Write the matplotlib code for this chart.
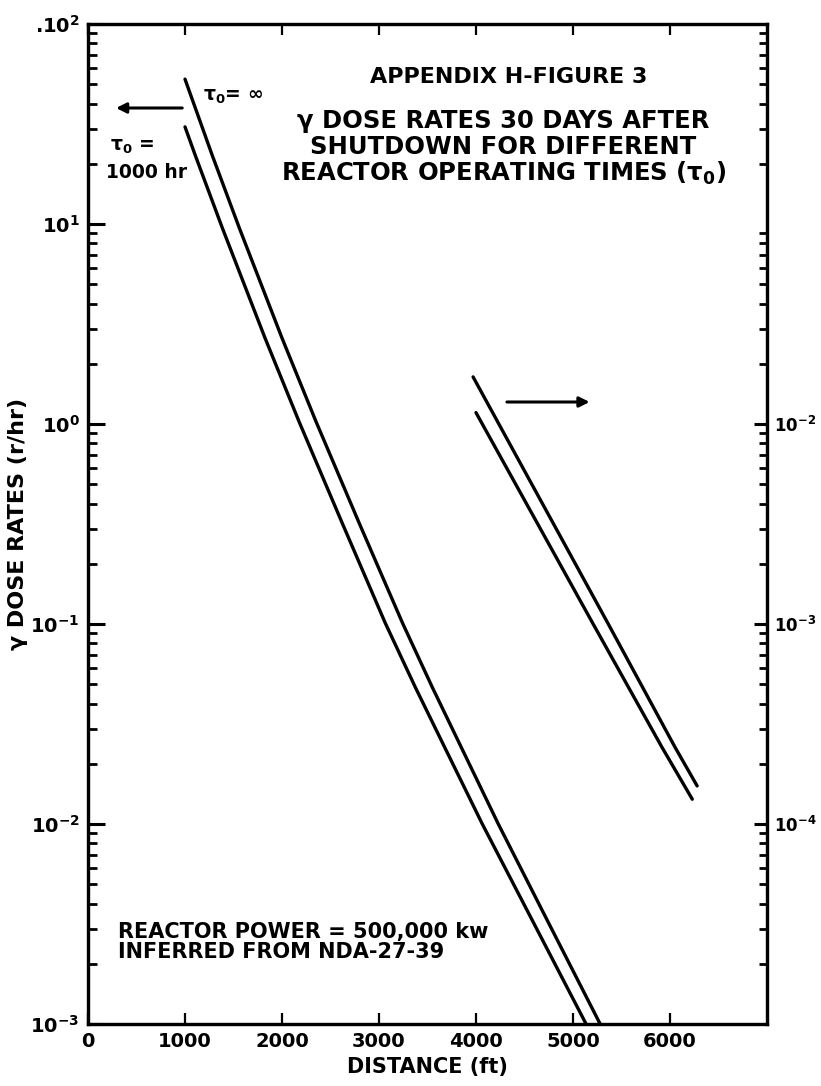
import matplotlib
matplotlib.use("Agg")
import matplotlib.pyplot as plt
from matplotlib.ticker import LogLocator, NullFormatter, FixedLocator
import numpy as np

plt.rcParams['font.family'] = ['DejaVu Sans']
plt.rcParams['font.weight'] = 'bold'
plt.rcParams['mathtext.fontset'] = 'dejavusans'
plt.rcParams['mathtext.default'] = 'bf'

# values (distance in ft, dose rate in r/hr)
dist_inf_left = [1000, 1280, 1560, 2000, 2350, 2800, 3243, 3550, 3846, 4230, 4700, 5280]
rate_inf_left = [53, 22.1, 9.55, 2.69, 1.03, 0.316, 0.101, 0.0482, 0.0243, 0.01, 0.00356, 0.001]
dist_1000_left = [1000, 1105, 1385, 1825, 2175, 2625, 3065, 3375, 3675, 4065, 4545, 5135]
rate_1000_left = [30.6, 22.1, 9.55, 2.69, 1.03, 0.316, 0.101, 0.0482, 0.0243, 0.01, 0.00356, 0.001]

# right-hand curves, read against the right axis
dist_inf_right = [3970, 5364, 6050, 6280]
rate_inf_right = [0.0172, 1e-3, 2.43e-4, 1.55e-4]
dist_1000_right = [4000, 5208, 5915, 6230]
rate_1000_right = [0.0114, 1e-3, 2.43e-4, 1.33e-4]

xticks = [0, 1000, 2000, 3000, 4000, 5000, 6000]
left_ticks = [1e-3, 1e-2, 1e-1, 1e0, 1e1, 1e2]
left_labels = ['10$^{-3}$', '10$^{-2}$', '10$^{-1}$', '10$^{0}$', '10$^{1}$', '.10$^{2}$']
right_ticks = [1e-4, 1e-3, 1e-2]
right_labels = ['10$^{-4}$', '10$^{-3}$', '10$^{-2}$']

fig = plt.figure(figsize=(8.21, 10.86), dpi=100)
ax = fig.add_axes([0.1072, 0.0571, 0.827, 0.9208])
ax2 = ax.twinx()

lw = 2.4
for d, r in ((dist_inf_left, rate_inf_left), (dist_1000_left, rate_1000_left)):
    ax.plot(d, r, color='black', lw=lw, solid_capstyle='round', solid_joinstyle='round')
for d, r in ((dist_inf_right, rate_inf_right), (dist_1000_right, rate_1000_right)):
    ax2.plot(d, r, color='black', lw=lw, solid_capstyle='round', solid_joinstyle='round')

ax.set_xlim(0, 7000)
ax.set_yscale('log')
ax.set_ylim(1e-3, 1e2)
ax2.set_yscale('log')
ax2.set_ylim(1e-5, 1e0)

for a in (ax, ax2):
    for s in a.spines.values():
        s.set_linewidth(2.3)

ax.set_xticks(xticks)
ax.set_xticklabels([str(x) for x in xticks], fontsize=14, fontweight='bold')
ax.tick_params(axis='x', direction='in', length=8, width=1.6, top=True, pad=6)

ax.yaxis.set_major_locator(FixedLocator(left_ticks))
ax.set_yticklabels(left_labels, fontsize=14, fontweight='bold')
ax.yaxis.set_minor_locator(LogLocator(base=10, subs=np.arange(2, 10)))
ax.yaxis.set_minor_formatter(NullFormatter())
ax.tick_params(axis='y', which='major', direction='in', length=12, width=2.2, pad=6)
ax.tick_params(axis='y', which='minor', direction='in', length=6.5, width=2)

ax2.yaxis.set_major_locator(FixedLocator(right_ticks))
ax2.set_yticklabels(right_labels, fontsize=12, fontweight='bold')
ax2.yaxis.set_minor_locator(LogLocator(base=10, subs=np.arange(2, 10)))
ax2.yaxis.set_minor_formatter(NullFormatter())
ax2.tick_params(axis='y', which='major', direction='in', length=9.5, width=2.2, pad=5)
ax2.tick_params(axis='y', which='minor', direction='in', length=6, width=2)

ax.set_xlabel('DISTANCE (ft)', fontsize=15, fontweight='bold', labelpad=4)
ax.set_ylabel('γ DOSE RATES (r/hr)', fontsize=16, fontweight='bold', labelpad=2)

# title block inside the frame
ax.text(4340, 10**1.735, 'APPENDIX H-FIGURE 3', ha='center', va='center', fontsize=16, fontweight='bold')
ax.text(4280, 10**1.515, 'γ DOSE RATES 30 DAYS AFTER', ha='center', va='center', fontsize=17.5, fontweight='bold')
ax.text(4280, 10**1.385, 'SHUTDOWN FOR DIFFERENT', ha='center', va='center', fontsize=17.5, fontweight='bold')
ax.text(4280, 10**1.255, 'REACTOR OPERATING TIMES ($\\tau_0$)', ha='center', va='center', fontsize=17.5, fontweight='bold')

# curve labels and arrows
ax.text(1186, 10**1.635, '$\\tau_0$= ∞', ha='left', va='center', fontsize=13.5, fontweight='bold')
ax.text(227, 10**1.385, '$\\tau_0$ =', ha='left', va='center', fontsize=13.5, fontweight='bold')
ax.text(186, 10**1.255, '1000 hr', ha='left', va='center', fontsize=13.5, fontweight='bold')
ax.annotate('', xy=(260, 10**1.58), xytext=(1000, 10**1.58),
            arrowprops=dict(arrowstyle='-|>', color='black', lw=2.2, mutation_scale=15))
ax.annotate('', xy=(5200, 10**0.11), xytext=(4290, 10**0.11),
            arrowprops=dict(arrowstyle='-|>', color='black', lw=2.2, mutation_scale=15))

ax.text(309, 10**-2.54, 'REACTOR POWER = 500,000 kw', ha='left', va='center', fontsize=15, fontweight='bold')
ax.text(309, 10**-2.64, 'INFERRED FROM NDA-27-39', ha='left', va='center', fontsize=15, fontweight='bold')

fig.savefig('out.png', dpi=100)
